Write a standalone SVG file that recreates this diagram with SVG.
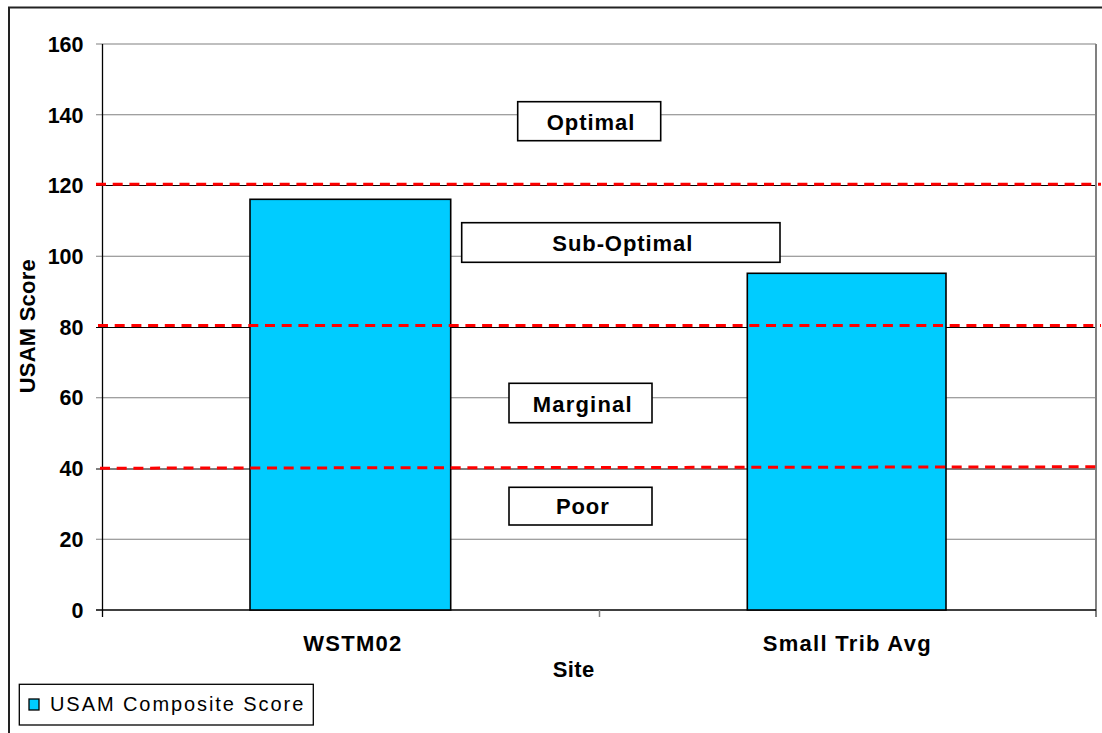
<svg xmlns="http://www.w3.org/2000/svg" width="1102" height="733" viewBox="0 0 1102 733">
<style>
.grid{stroke:#808080;stroke-width:1.2;fill:none}
.gridk{stroke:#000;stroke-width:1.2;fill:none}
.axis{stroke:#000;stroke-width:1.3;fill:none}
.thr{stroke:#ff0000;stroke-width:3;stroke-dasharray:10 6.7;fill:none}
.bar{fill:#00ccff;stroke:#000;stroke-width:1.6}
.box{fill:#fff;stroke:#000;stroke-width:1.6}
.b{font-family:"Liberation Sans",Arial,sans-serif;font-weight:bold;font-size:22px;fill:#000}
.tick{font-family:"Liberation Sans",Arial,sans-serif;font-weight:bold;font-size:21.5px;fill:#000;text-anchor:end}
.leg{font-family:"Liberation Sans",Arial,sans-serif;font-size:20px;fill:#000}
</style>
<rect x="0" y="0" width="1102" height="733" fill="#fff"/>
<rect x="9" y="7.5" width="1200" height="800" fill="none" stroke="#222" stroke-width="2"/>
<g id="axes">
<line class="grid" x1="96" y1="44" x2="1096" y2="44"/>
<line class="grid" x1="96" y1="114.75" x2="1096" y2="114.75"/>
<line class="gridk" x1="96" y1="185.5" x2="1096" y2="185.5"/>
<line class="grid" x1="96" y1="256.25" x2="1096" y2="256.25"/>
<line class="gridk" x1="96" y1="327.5" x2="1096" y2="327.5"/>
<line class="grid" x1="96" y1="397.75" x2="1096" y2="397.75"/>
<line class="gridk" x1="96" y1="469" x2="1096" y2="469"/>
<line class="grid" x1="96" y1="539.25" x2="1096" y2="539.25"/>
<line x1="1096" y1="44" x2="1096" y2="617" stroke="#808080" stroke-width="2"/>
<line class="axis" x1="102.5" y1="44" x2="102.5" y2="617"/>
<line class="axis" x1="96" y1="610" x2="1096" y2="610"/>
<line x1="599.5" y1="610" x2="599.5" y2="617" stroke="#808080" stroke-width="1.5"/>
<text class="tick" x="83.5" y="52">160</text>
<text class="tick" x="83.5" y="122.5">140</text>
<text class="tick" x="83.5" y="193">120</text>
<text class="tick" x="83.5" y="263.5">100</text>
<text class="tick" x="83.5" y="334.5">80</text>
<text class="tick" x="83.5" y="405">60</text>
<text class="tick" x="83.5" y="476">40</text>
<text class="tick" x="83.5" y="546.5">20</text>
<text class="tick" x="83.5" y="617.5">0</text>
<text class="b" transform="translate(35,393.3) rotate(-90)" x="0" y="0" textLength="134" lengthAdjust="spacing">USAM Score</text>
<text class="b" x="303.3" y="650.7" textLength="98" lengthAdjust="spacing">WSTM02</text>
<text class="b" x="762.7" y="650.7" textLength="168" lengthAdjust="spacing">Small Trib Avg</text>
<text class="b" x="552.7" y="677.3" textLength="41.6" lengthAdjust="spacing">Site</text>
</g>
<g id="bar-wstm02"><rect class="bar" x="250" y="199.3" width="200.7" height="410.7"/></g>
<g id="bar-small-trib-avg"><rect class="bar" x="747.3" y="273.3" width="198.7" height="336.7"/></g>
<g id="connectors">
<line class="thr" x1="96" y1="184.2" x2="1101" y2="184.2"/>
<line class="thr" x1="98" y1="325.5" x2="1101" y2="325.5"/>
<line class="thr" x1="100" y1="468.2" x2="1101" y2="466.8"/>
</g>
<g id="label-optimal"><rect class="box" x="517.7" y="101.7" width="143" height="39"/><text class="b" x="546.7" y="130" textLength="87.6" lengthAdjust="spacing">Optimal</text></g>
<g id="label-sub-optimal"><rect class="box" x="461.7" y="222.7" width="318.3" height="39.6"/><text class="b" x="552.3" y="251" textLength="140" lengthAdjust="spacing">Sub-Optimal</text></g>
<g id="label-marginal"><rect class="box" x="509" y="383.3" width="143" height="39.4"/><text class="b" x="532.7" y="412.3" textLength="99" lengthAdjust="spacing">Marginal</text></g>
<g id="label-poor"><rect class="box" x="509" y="487.3" width="143" height="37.7"/><text class="b" x="556" y="514" textLength="52.7" lengthAdjust="spacing">Poor</text></g>
<g id="legend">
<rect x="19.3" y="684.3" width="294" height="40.7" fill="#fff" stroke="#000" stroke-width="1.3"/>
<rect x="29" y="699" width="10" height="11" fill="#00ccff" stroke="#000" stroke-width="1.3"/>
<text class="leg" x="50" y="711" textLength="253.3" lengthAdjust="spacing">USAM Composite Score</text>
</g>
</svg>
